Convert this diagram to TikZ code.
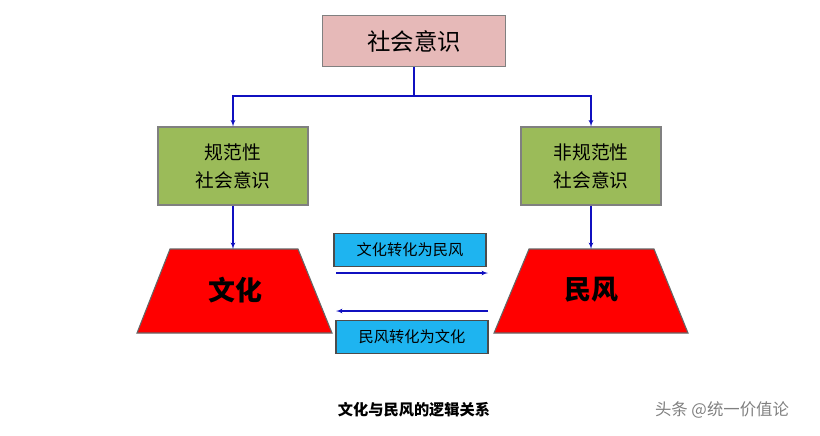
\documentclass[tikz,border=0pt]{standalone}
\usepackage{fontspec}
\setmainfont{Noto Sans CJK SC}
\usetikzlibrary{arrows}
\definecolor{lnblue}{HTML}{1010C0}
\definecolor{pinkbox}{HTML}{E6B9B8}
\definecolor{greenbox}{HTML}{9BBB59}
\definecolor{cyanbox}{HTML}{1EB4F0}
\tikzstyle{top}=[draw=gray, fill=pinkbox, minimum width=5.5cm, minimum height=1.55cm, font=\fontsize{20}{24}\selectfont]
\tikzstyle{kind}=[draw=gray, fill=greenbox, minimum height=2.34cm, align=center, font=\fontsize{16}{24}\selectfont]
\tikzstyle{turn}=[draw=black!70, fill=cyanbox, minimum width=4.56cm, minimum height=0.99cm, font=\fontsize{13}{15}\selectfont]
\tikzstyle{trap}=[fill=red, draw=black!60]
\begin{document}
\begin{tikzpicture}[x=0.03cm,y=-0.03cm,>=latex',line width=0.9pt]
      \useasboundingbox (0,0) rectangle (820,435);

      \node [top] (sy) at (414,41) {社会意识};
      \node [kind, minimum width=4.5cm] (gf) at (233,166) {规范性\\社会意识};
      \node [kind, minimum width=4.2cm] (fg) at (591,166) {非规范性\\社会意识};

      % trapezoids
      \draw [trap] (170,249) -- (298,249) -- (332,333) -- (137,333) -- cycle;
      \draw [trap] (529,249) -- (654,249) -- (688,333) -- (494,333) -- cycle;
      \coordinate (wht) at (233,249);
      \coordinate (mft) at (591,249);
      \node [font=\fontsize{23}{27}\selectfont\bfseries] (wh) at (235,290) {文化};
      \node [font=\fontsize{23}{27}\selectfont\bfseries] (mf) at (591,290) {民风};

      \node [turn] (t1) at (410,250) {文化转化为民风};
      \node [turn] (t2) at (412,337) {民风转化为文化};
      \coordinate (a1) at (336,273);
      \coordinate (b1) at (488,273);
      \coordinate (a2) at (488,311);
      \coordinate (b2) at (336,311);

      \coordinate (mid) at (414,96);
      \draw [lnblue] (sy.south) -- (mid);
      \draw [lnblue,->] (mid) -| (gf.north);
      \draw [lnblue,->] (mid) -| (fg.north);
      \draw [lnblue,->] (gf.south) -- (wht);
      \draw [lnblue,->] (fg.south) -- (mft);
      \draw [lnblue,->] (a1) -- (b1);
      \draw [lnblue,->] (a2) -- (b2);

      \node [font=\fontsize{13}{15}\selectfont\bfseries] (cap) at (414,410) {文化与民风的逻辑关系};
      \node [text=gray, font=\fontsize{14}{16}\selectfont] (wm) at (722,410) {头条 @统一价值论};
\end{tikzpicture}
\end{document}
